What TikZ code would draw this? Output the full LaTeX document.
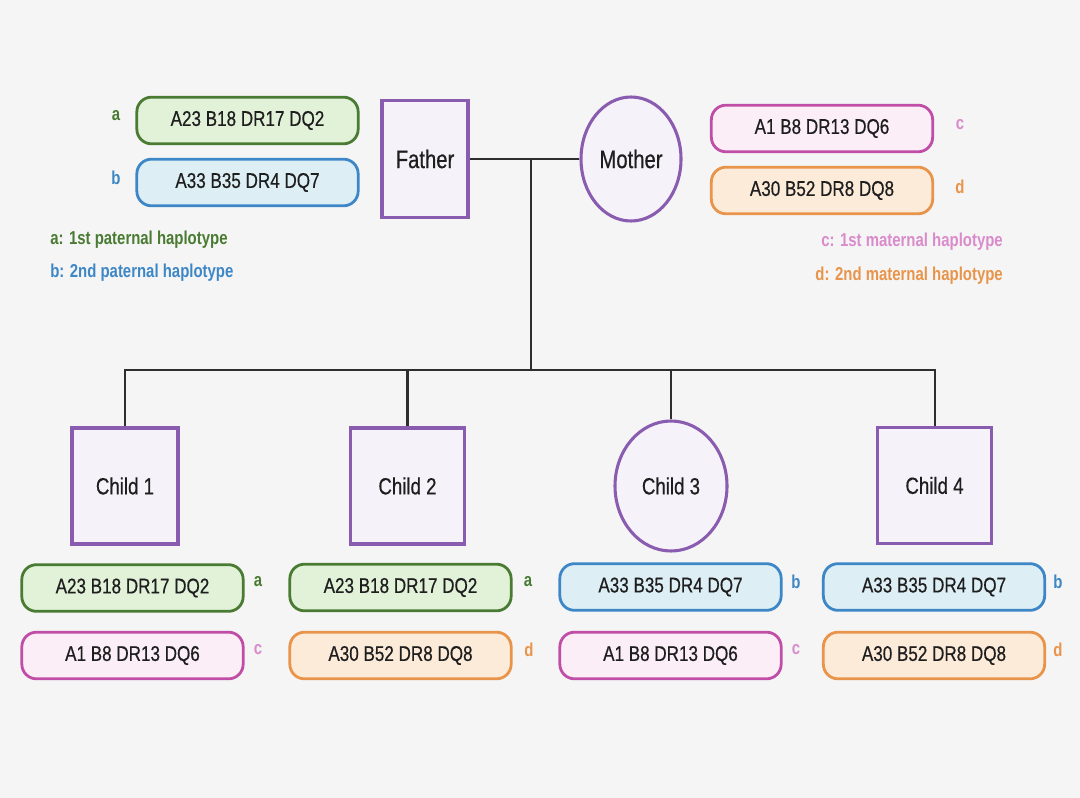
\documentclass[tikz,border=0pt]{standalone}
\usepackage{fontspec}
\setmainfont[FakeStretch=0.8]{Liberation Sans}
\newfontfamily\medfont[FakeStretch=0.8, FakeBold=0.5]{Liberation Sans}
\usetikzlibrary{shapes.geometric}
\definecolor{bg}{HTML}{F5F5F5}
\definecolor{gA}{HTML}{4A7B32}\definecolor{gAf}{HTML}{E2F2D9}
\definecolor{bB}{HTML}{3E87C6}\definecolor{bBf}{HTML}{DDEFF5}
\definecolor{pC}{HTML}{C04EA6}\definecolor{pCf}{HTML}{FCEEF6}
\definecolor{oD}{HTML}{E8944A}\definecolor{oDf}{HTML}{FDEBDA}
\definecolor{lC}{HTML}{D98BCB}
\definecolor{pur}{HTML}{8A5CB0}\definecolor{purf}{HTML}{F6F2F9}
\definecolor{ln}{HTML}{2E2E2E}
\definecolor{tx}{HTML}{1E1E1E}
\tikzset{
  hap/.style={rectangle, rounded corners=11pt, minimum width=166pt, minimum height=35pt, line width=2.1pt, inner sep=0pt, text=tx, font=\medfont\fontsize{16}{18}\selectfont},
  hapa/.style={hap, draw=gA, fill=gAf},
  hapb/.style={hap, draw=bB, fill=bBf},
  hapc/.style={hap, draw=pC, fill=pCf},
  hapd/.style={hap, draw=oD, fill=oDf},
  male/.style={rectangle, draw=pur, fill=purf, line width=2.3pt, inner sep=0pt, text=tx, font=\medfont\fontsize{17.5}{20}\selectfont},
  female/.style={ellipse, draw=pur, fill=purf, line width=2.3pt, inner sep=0pt, text=tx, font=\medfont\fontsize{17.5}{20}\selectfont},
  lbl/.style={font=\bfseries\fontsize{14}{16}\selectfont, inner sep=0pt},
  conn/.style={draw=ln, line width=2.2pt},
}
\begin{document}
\begin{tikzpicture}[x=0.75pt,y=-0.75pt]
\fill[bg] (0,0) rectangle (1080,798);
\useasboundingbox (0,0) rectangle (1080,798);
% parents
\node[male, minimum width=64.5pt, minimum height=87.75pt, font=\medfont\fontsize{19}{22}\selectfont] (father) at (425,159) {Father};
\node[female, minimum width=75pt, minimum height=93pt, font=\medfont\fontsize{19}{22}\selectfont] (mother) at (631,159) {Mother};
% children
\node[male, minimum width=79.5pt, minimum height=87pt] (c1) at (125,486) {Child 1};
\node[male, minimum width=86pt, minimum height=87pt] (c2) at (407.5,486) {Child 2};
\node[female, minimum width=84pt, minimum height=97.5pt] (c3) at (671,486) {Child 3};
\node[male, minimum width=86pt, minimum height=87pt] (c4) at (934.5,485.5) {Child 4};
% connectors
\coordinate (m) at (531,159);
\coordinate (j) at (531,370);
\coordinate (l) at (125,370);
\coordinate (r) at (935,370);
\draw[conn] (father.east) -- (mother.west);
\draw[conn] (m) -- (j);
\draw[conn, line cap=rect] (l) -- (r);
\draw[conn] (l) -- (c1.north);
\draw[conn] (c2.north |- j) -- (c2.north);
\draw[conn] (c3.north |- j) -- (c3.north);
\draw[conn] (r) -- (r |- c4.north);
% father haplotypes
\node[hapa] (fa) at (247.5,120.5) {A23 B18 DR17 DQ2};
\node[hapb] (fb) at (247.5,182.5) {A33 B35 DR4 DQ7};
\node[lbl, text=gA] (la) at (116,116) {a};
\node[lbl, text=bB] (lb) at (116,178) {b};
\node[lbl, text=gA, anchor=west] (lega) at (50,240) {a: 1st paternal haplotype};
\node[lbl, text=bB, anchor=west] (legb) at (50,273) {b: 2nd paternal haplotype};
% mother haplotypes
\node[hapc] (mc) at (822,128.5) {A1 B8 DR13 DQ6};
\node[hapd] (md) at (822,190.5) {A30 B52 DR8 DQ8};
\node[lbl, text=lC] (lc) at (960,125) {c};
\node[lbl, text=oD] (ld) at (960,187) {d};
\node[lbl, text=lC, anchor=east] (legc) at (1003,242) {c: 1st maternal haplotype};
\node[lbl, text=oD, anchor=east] (legd) at (1003,276) {d: 2nd maternal haplotype};
% child haplotypes
\node[hapa] (h1a) at (132.5,588) {A23 B18 DR17 DQ2};
\node[hapc] (h1c) at (132.5,655.5) {A1 B8 DR13 DQ6};
\node[lbl, text=gA] (t1a) at (258,582) {a};
\node[lbl, text=lC] (t1c) at (258,650) {c};
\node[hapa] (h2a) at (400.5,587.5) {A23 B18 DR17 DQ2};
\node[hapd] (h2d) at (400.5,655.5) {A30 B52 DR8 DQ8};
\node[lbl, text=gA] (t2a) at (528,582) {a};
\node[lbl, text=oD] (t2d) at (529,650) {d};
\node[hapb] (h3b) at (670.5,587) {A33 B35 DR4 DQ7};
\node[hapc] (h3c) at (670.5,655.5) {A1 B8 DR13 DQ6};
\node[lbl, text=bB] (t3b) at (796,582) {b};
\node[lbl, text=lC] (t3c) at (796,650) {c};
\node[hapb] (h4b) at (934,587) {A33 B35 DR4 DQ7};
\node[hapd] (h4d) at (934,655.5) {A30 B52 DR8 DQ8};
\node[lbl, text=bB] (t4b) at (1058,582) {b};
\node[lbl, text=oD] (t4d) at (1058,650) {d};
\end{tikzpicture}
\end{document}
